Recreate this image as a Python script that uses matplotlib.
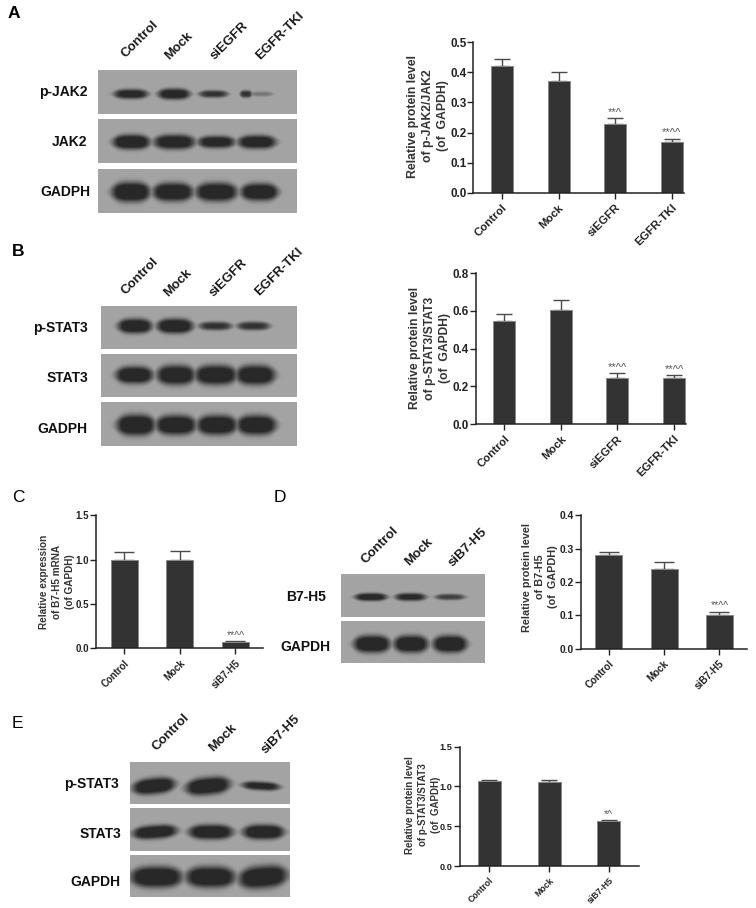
import numpy as np
import matplotlib
matplotlib.use("Agg")
import matplotlib.pyplot as plt

plt.rcParams['font.family'] = ['Liberation Sans', 'DejaVu Sans']

W, H = 756, 908

# bar chart values
lanes_egfr = ["Control", "Mock", "siEGFR", "EGFR-TKI"]
lanes_b7 = ["Control", "Mock", "siB7-H5"]

a_values = [0.422, 0.370, 0.228, 0.167]
a_err = [0.021, 0.030, 0.020, 0.013]
a_sig = ["", "", "**^", "**^^"]

b_values = [0.548, 0.607, 0.245, 0.243]
b_err = [0.037, 0.053, 0.025, 0.017]
b_sig = ["", "", "**^^", "**^^"]

c_values = [1.0, 1.0, 0.07]
c_err = [0.09, 0.10, 0.01]
c_sig = ["", "", "**^^"]

d_values = [0.28, 0.24, 0.10]
d_err = [0.011, 0.021, 0.011]
d_sig = ["", "", "**^^"]

e_values = [1.07, 1.06, 0.56]
e_err = [0.015, 0.02, 0.015]
e_sig = ["", "", "*^"]

# blot band densities, 1 is a black band (last lanes can have a faded tail)
pjak2_density = [0.86, 0.92, 0.72, 0.72, 0.28]
jak2_density = [1.0, 0.95, 0.9, 0.95]
gadph_a_density = [1.05, 1.02, 1.02, 1.02]
pstat3_b_density = [0.98, 1.0, 0.72, 0.72]
stat3_b_density = [1.0, 1.0, 1.0, 1.0]
gadph_b_density = [1.05, 1.02, 1.02, 1.02]
b7h5_density = [0.9, 0.82, 0.62]
gapdh_d_density = [1.05, 1.02, 1.02]
pstat3_e_density = [1.03, 1.03, 0.85]
stat3_e_density = [1.0, 1.0, 1.0]
gapdh_e_density = [1.05, 1.03, 1.03]


def pixel_axes(x0, x1, ytop, ybot):
    return fig.add_axes([x0 / W, 1 - ybot / H, (x1 - x0) / W, (ybot - ytop) / H])


def bar_panel(values, err, sig, labels, ymax, step, geo):
    spine, xend, ytop, y0, c0, c1, width, tick_fs, xtick_fs, label_fs, label, lab_x, lab_y, sig_fs = geo
    n = len(values)
    ax = pixel_axes(spine, xend, ytop, y0)
    dx = (c1 - c0) / (n - 1)
    x = np.arange(n)
    ax.bar(x, values, width=width / dx, color="#333333", edgecolor="#8a8a8a", linewidth=0.7, zorder=2)
    ax.errorbar(x, values, yerr=[np.zeros(n), err], fmt="none", ecolor="#4a4a4a",
                elinewidth=1.0, capsize=width * 0.36 * 0.72, capthick=1.0, zorder=1)
    ax.set_xlim(-(c0 - spine) / dx, (xend - c0) / dx)
    ax.set_ylim(0, ymax)
    ax.set_yticks(np.arange(0, ymax + step / 2, step))
    ax.set_yticklabels([f"{t:.1f}" for t in np.arange(0, ymax + step / 2, step)],
                       fontsize=tick_fs, fontweight="bold", color="#222222")
    ax.set_xticks(x)
    ax.set_xticklabels(labels, rotation=45, ha="right", va="top", rotation_mode="anchor",
                       fontsize=xtick_fs, fontweight="bold", color="#222222")
    ax.tick_params(axis="y", length=4, width=1.0, pad=1, color="#222222")
    ax.tick_params(axis="x", length=4, width=1.0, pad=3, color="#222222")
    ax.patch.set_alpha(0)
    for s in ["top", "right"]:
        ax.spines[s].set_visible(False)
    for s in ["left", "bottom"]:
        ax.spines[s].set_linewidth(1.1)
        ax.spines[s].set_color("#222222")
    ax.set_ylabel(label, fontsize=label_fs, fontweight="bold", color="#333333",
                  va="center", ha="center", linespacing=1.35)
    ax.yaxis.set_label_coords((lab_x - spine) / (xend - spine), (y0 - lab_y) / (y0 - ytop))
    for i in range(n):
        if sig[i]:
            ax.annotate(sig[i], (x[i], values[i] + err[i]), xytext=(0, 0.3), textcoords="offset points",
                        ha="center", va="bottom", fontsize=sig_fs, color="#555555", clip_on=False)
    return ax


def blot_image(x0, x1, y0, y1, rows, bg=163, dark=40):
    # rows: list of (ytop, ybot, yc, [(xa, xb, halfheight, tilt)], densities)
    yy, xx = np.mgrid[y0:y1, x0:x1]
    img = np.full(xx.shape, 255.0)
    for ytop, ybot, yc, spans, dens in rows:
        mask = (yy >= ytop) & (yy < ybot)
        d = np.zeros(xx.shape)
        for (xa, xb, hh, *tilt), v in zip(spans, dens):
            c = (xa + xb) / 2
            hw = (xb - xa) / 2
            t = tilt[0] if tilt else 0
            u = (xx + 0.5 - c) / hw
            # flat dark core with soft edges, thinner at the lane ends
            shape = 1 - 0.35 * np.abs(u) ** 3
            p = np.exp(-np.abs(u) ** 4.5) * np.exp(-np.abs((yy + 0.5 - yc - t * u) / (hh * 1.22 * shape.clip(0.3))) ** 3)
            d = np.maximum(d, 1.3 * v * p)
        row = bg - (bg - dark) * np.clip(d, 0, 1)
        img[mask] = row[mask]
    over.imshow(img, cmap="gray", vmin=0, vmax=255, extent=(x0, x1, y1, y0),
                interpolation="bilinear", aspect="auto", zorder=1)


fig = plt.figure(figsize=(W / 100, H / 100), dpi=100, facecolor="white")

over = fig.add_axes([0, 0, 1, 1])
over.set_xlim(0, W)
over.set_ylim(H, 0)
over.axis("off")

# panel A blot
blot_image(98, 297, 70, 213, [
    (70, 114, 94, [(114, 148, 4), (158, 190, 4.5), (199, 228, 3), (240, 252, 3), (250, 273, 2)], pjak2_density),
    (119, 163, 142, [(113, 150, 6), (154, 195, 6), (198, 235, 5), (238, 276, 5.5)], jak2_density),
    (169, 213, 192, [(112, 150, 8), (153, 193, 7.5), (196, 237, 7.5), (241, 278, 7)], gadph_a_density),
])
# panel B blot
blot_image(101, 297, 306, 446, [
    (306, 349, 326, [(118, 152, 6), (157, 193, 6), (199, 232, 3.5), (237, 270, 3.5)], pstat3_b_density),
    (354, 397, 375, [(116, 153, 7), (157, 195, 8), (195, 237, 8), (236, 275, 8)], stat3_b_density),
    (402, 446, 425, [(117, 155, 8.5), (156, 196, 8), (197, 237, 8), (237, 276, 8)], gadph_b_density),
])
# panel D blot
blot_image(341, 485, 574, 663, [
    (574, 617, 597, [(355, 387, 3.2), (395, 426, 3.2), (435, 465, 2.5)], b7h5_density),
    (621, 663, 644, [(354, 390, 7), (394, 428, 7), (433, 467, 7)], gapdh_d_density),
])
# panel E blot
blot_image(130, 290, 762, 897, [
    (762, 804, 786, [(133, 175, 6.5, -2), (186, 230, 7, -2), (242, 280, 3.5, 1)], pstat3_e_density),
    (808, 851, 832, [(133, 177, 5.5, -1.5), (189, 233, 6), (243, 284, 6)], stat3_e_density),
    (855, 897, 877, [(131, 182, 8.5), (186, 235, 8.5), (239, 287, 9, -2)], gapdh_e_density),
])
over.set_xlim(0, W)
over.set_ylim(H, 0)

# lane labels over the blots
lane_pos = [
    (lanes_egfr, [(140, 39), (179, 46), (229, 41), (280, 36)]),
    (lanes_egfr, [(140, 276), (178, 283), (228, 278), (279, 272)]),
    (lanes_b7, [(380, 545), (419, 552), (468, 547)]),
    (lanes_b7, [(171, 732), (223, 738), (281, 734)]),
]
for names, pts in lane_pos:
    for name, (px, py) in zip(names, pts):
        over.text(px, py, name, rotation=45, ha="center", va="center", rotation_mode="anchor",
                  fontsize=9.5, fontweight="bold", color="#1a1a1a")

row_labels = [
    ("p-JAK2", 87, 92), ("JAK2", 87, 142), ("GADPH", 90, 192),
    ("p-STAT3", 88, 328), ("STAT3", 88, 378), ("GADPH", 87, 429),
    ("B7-H5", 326, 597), ("GAPDH", 330, 647),
    ("p-STAT3", 119, 784), ("STAT3", 121, 834), ("GAPDH", 120, 882),
]
for name, px, py in row_labels:
    over.text(px, py, name, ha="right", va="center", fontsize=10, fontweight="bold", color="#111111")

for letter, px, py, wt in [("A", 8, 14, "bold"), ("B", 12, 252, "bold"), ("C", 12, 497, "normal"),
                           ("D", 274, 497, "normal"), ("E", 12, 723, "normal")]:
    over.text(px, py, letter, ha="left", va="center", fontsize=12.5, fontweight=wt, color="black")

bar_panel(a_values, a_err, a_sig, lanes_egfr, 0.5, 0.1,
          (473.3, 684, 42.3, 192.7, 502, 671.7, 22, 8.4, 8.2, 8.8,
           "Relative protein level\nof p-JAK2/JAK2\n(of  GAPDH)", 428, 116, 8))
bar_panel(b_values, b_err, b_sig, lanes_egfr, 0.8, 0.2,
          (476, 686, 273.3, 424, 504.3, 674, 22, 8.4, 8.2, 8.7,
           "Relative protein level\nof p-STAT3/STAT3\n(of  GAPDH)", 430, 348, 8))
bar_panel(c_values, c_err, c_sig, lanes_b7, 1.5, 0.5,
          (96.3, 263.3, 515.3, 648.3, 124.3, 235.3, 27, 7, 6.9, 7.2,
           "Relative expression\nof B7-H5 mRNA\n(of GAPDH)", 57, 582, 7.5))
bar_panel(d_values, d_err, d_sig, lanes_b7, 0.4, 0.1,
          (581, 747, 515.3, 648.7, 608.7, 719.3, 27, 7.4, 7.1, 7.8,
           "Relative protein level\nof B7-H5\n(of  GAPDH)", 540, 577, 7.5))
bar_panel(e_values, e_err, e_sig, lanes_b7, 1.5, 0.5,
          (459.7, 639.3, 746.7, 866, 489.3, 608.7, 23, 6.6, 6.3, 7,
           "Relative protein level\nof p-STAT3/STAT3\n(of  GAPDH)", 423, 805, 7.5))

fig.savefig("out.png", dpi=100, facecolor="white")
